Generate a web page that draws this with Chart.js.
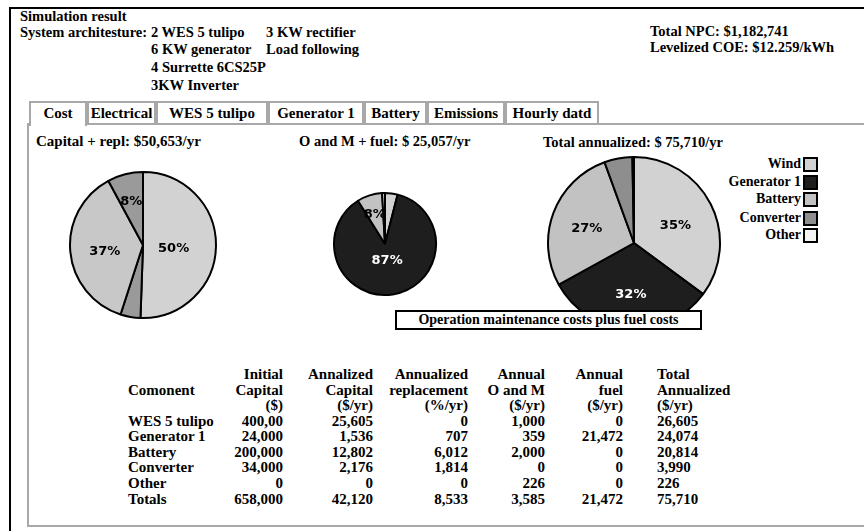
<!DOCTYPE html>
<html>
<head>
<meta charset="utf-8">
<script src="https://cdn.jsdelivr.net/npm/chart.js@4.4.0/dist/chart.umd.min.js"></script>
<style>
  html, body { margin: 0; padding: 0; background: #fff; }
  body {
    width: 864px; height: 531px; overflow: hidden; position: relative;
    font-family: "Liberation Serif", "Times New Roman", serif;
    font-weight: bold; font-size: 15px; color: #000;
  }
  .t { position: absolute; white-space: nowrap; line-height: 16px; height: 16px; }
  .hd { font-size: 14.5px; }
  .lg { font-size: 14px; }
  #frame { position: absolute; left: 9px; top: 7px; width: 900px; height: 560px; border: 2px solid #000; }
  #panel { position: absolute; left: 27px; top: 123px; width: 900px; height: 400px; border: 2px solid #a8a8a8; border-right: none; }
  .tab {
    position: absolute; top: 101px; height: 22px; box-sizing: border-box;
    border: 2px solid #a8a8a8; border-bottom: none; background: #fff;
    text-align: center; line-height: 21px; white-space: nowrap;
  }
  .tab.active { height: 25px; z-index: 2; }
  canvas { position: absolute; }
  #note {
    position: absolute; left: 395px; top: 310px; width: 307px; height: 20px;
    box-sizing: border-box; border: 2px solid #000; background: #fff;
    text-align: center; line-height: 16px; font-size: 14px; z-index: 3;
  }
  .box { position: absolute; width: 15px; height: 15px; box-sizing: border-box; border: 2px solid #000; }
</style>
</head>
<body>
<div id="frame"></div>
<div id="panel"></div>
<div id="stage"></div>
<canvas id="pieCapital" width="150" height="150" style="left:68px; top:170px;"></canvas>
<canvas id="pieOM" width="106" height="106" style="left:332px; top:191px;"></canvas>
<canvas id="pieTotal" width="176" height="176" style="left:546px; top:155px;"></canvas>
<div id="note">Operation maintenance costs plus fuel costs</div>

<script>
// ---- data ----
const legendLabels = ['Wind', 'Generator 1', 'Battery', 'Converter', 'Other'];
const capitalRepl = [25605, 2243, 18814, 3990, 0];
const omFuel = [1000, 21831, 2000, 0, 226];
const totalAnnualized = [26605, 24074, 20814, 3990, 226];

// percent labels as printed on the slices
const capitalPct = ['50%', '', '37%', '8%', ''];
const omPct = ['', '87%', '8%', '', ''];
const totalPct = ['35%', '32%', '27%', '', ''];

const tabNames = ['Cost', 'Electrical', 'WES 5 tulipo', 'Generator 1', 'Battery', 'Emissions', 'Hourly datd'];

const rowNames = ['WES 5 tulipo', 'Generator 1', 'Battery', 'Converter', 'Other', 'Totals'];
const initialCapital = ['400,00', '24,000', '200,000', '34,000', '0', '658,000'];
const annualizedCapital = ['25,605', '1,536', '12,802', '2,176', '0', '42,120'];
const annualizedReplacement = ['0', '707', '6,012', '1,814', '0', '8,533'];
const annualOM = ['1,000', '359', '2,000', '0', '226', '3,585'];
const annualFuel = ['0', '21,472', '0', '0', '0', '21,472'];
const totalAnnualizedCol = ['26,605', '24,074', '20,814', '3,990', '226', '75,710'];

const colHeaders = [
  ['Initial', 'Capital', '($)'],
  ['Annalized', 'Capital', '($/yr)'],
  ['Annualized', 'replacement', '(%/yr)'],
  ['Annual', 'O and M', '($/yr)'],
  ['Annual', 'fuel', '($/yr)'],
  ['Total', 'Annualized', '($/yr)'],
];

const architecture = ['2 WES 5 tulipo', '6 KW generator', '4 Surrette 6CS25P', '3KW Inverter'];

// ---- helpers ----
const stage = document.getElementById('stage');

function put(text, x, y, align, cls) {
  const el = document.createElement('div');
  el.className = 't' + (cls ? ' ' + cls : '');
  el.textContent = text;
  el.style.top = (y - 8) + 'px';
  if (align === 'right') {
    el.style.right = (864 - x) + 'px';
    el.style.textAlign = 'right';
  } else {
    el.style.left = x + 'px';
  }
  stage.appendChild(el);
  return el;
}

// header text
put('Simulation result', 20, 16, 'left', 'hd');
const archLabel = put('System architesture:\u00a0', 20, 32, 'left', 'hd');
const archX = 20 + archLabel.offsetWidth;
const archY = [32, 49, 67, 85];
architecture.forEach((line, i) => put(line, archX, archY[i], 'left', 'hd'));
put('3 KW rectifier', 266, 32, 'left', 'hd');
put('Load following', 266, 49, 'left', 'hd');
put('Total NPC: $1,182,741', 650, 31, 'left', 'hd');
put('Levelized COE: $12.259/kWh', 650, 47, 'left', 'hd');

// tabs
const tabEdges = [29, 87, 156, 268, 364, 427, 505, 599];
tabNames.forEach((name, i) => {
  const el = document.createElement('div');
  el.className = 'tab' + (i === 0 ? ' active' : '');
  el.textContent = name;
  el.style.left = tabEdges[i] + 'px';
  el.style.width = (tabEdges[i + 1] - tabEdges[i]) + 'px';
  stage.appendChild(el);
});

// pie titles
put('Capital + repl: $50,653/yr', 36, 141);
put('O and M + fuel: $ 25,057/yr', 299, 141, 'left', 'hd');
put('Total annualized: $ 75,710/yr', 543, 142, 'left', 'hd');

// legend
const sliceColors = ['#d2d2d2', '#1e1e1e', '#c2c2c2', '#8e8e8e', '#f4f4f4'];
const legendY = [164, 182, 199, 218, 235];
legendLabels.forEach((lab, i) => {
  put(lab, 801, legendY[i], 'right', 'lg');
  const b = document.createElement('div');
  b.className = 'box';
  b.style.left = '803px';
  b.style.top = (legendY[i] - 7) + 'px';
  b.style.background = sliceColors[i];
  stage.appendChild(b);
});

// table
const headerY = [374, 390, 405];
const rowY = [421, 436, 452, 467, 483, 499];
const colRight = [283, 373, 468, 545, 623];
const totalLeft = 657;
const columns = [initialCapital, annualizedCapital, annualizedReplacement, annualOM, annualFuel];

put('Comonent', 128, headerY[1]);
colHeaders.forEach((lines, c) => {
  lines.forEach((line, r) => {
    if (c < 5) put(line, colRight[c], headerY[r], 'right');
    else put(line, totalLeft, headerY[r]);
  });
});
rowNames.forEach((name, r) => {
  put(name, 128, rowY[r]);
  columns.forEach((col, c) => put(col[r], colRight[c], rowY[r], 'right'));
  put(totalAnnualizedCol[r], totalLeft, rowY[r]);
});

// ---- pies ----
const pctLabels = {
  id: 'pctLabels',
  afterDatasetsDraw(chart, args, opts) {
    const ctx = chart.ctx;
    const meta = chart.getDatasetMeta(0);
    ctx.save();
    ctx.font = 'bold 13px "DejaVu Sans"';
    ctx.textAlign = 'center';
    ctx.textBaseline = 'middle';
    meta.data.forEach((arc, i) => {
      const txt = opts.texts[i];
      if (!txt) return;
      const half = (arc.endAngle - arc.startAngle) / 2;
      const mid = arc.startAngle + half;
      let d = (2 / 3) * arc.outerRadius * Math.sin(half) / half;
      d = Math.max(d, 0.27 * arc.outerRadius);
      ctx.fillStyle = opts.dark[i] ? '#fff' : '#000';
      ctx.fillText(txt, arc.x + Math.cos(mid) * d, arc.y + Math.sin(mid) * d + 3);
    });
    ctx.restore();
  }
};

function makePie(id, values, colors, texts, radius) {
  return new Chart(document.getElementById(id), {
    type: 'pie',
    data: {
      labels: legendLabels,
      datasets: [{
        data: values,
        backgroundColor: colors,
        borderColor: '#000',
        borderWidth: 2,
        hoverBorderWidth: 2,
      }],
    },
    options: {
      responsive: false,
      animation: false,
      events: [],
      radius: radius,
      plugins: {
        legend: { display: false },
        tooltip: { enabled: false },
        pctLabels: { texts: texts, dark: [false, true, false, false, false] },
      },
    },
    plugins: [pctLabels],
  });
}

const capitalColors = ['#d2d2d2', '#9a9a9a', '#c8c8c8', '#9a9a9a', '#ffffff'];
makePie('pieCapital', capitalRepl, capitalColors, capitalPct, 73);
makePie('pieOM', omFuel, sliceColors, omPct, 51);
makePie('pieTotal', totalAnnualized, sliceColors, totalPct, 86);
</script>
</body>
</html>
